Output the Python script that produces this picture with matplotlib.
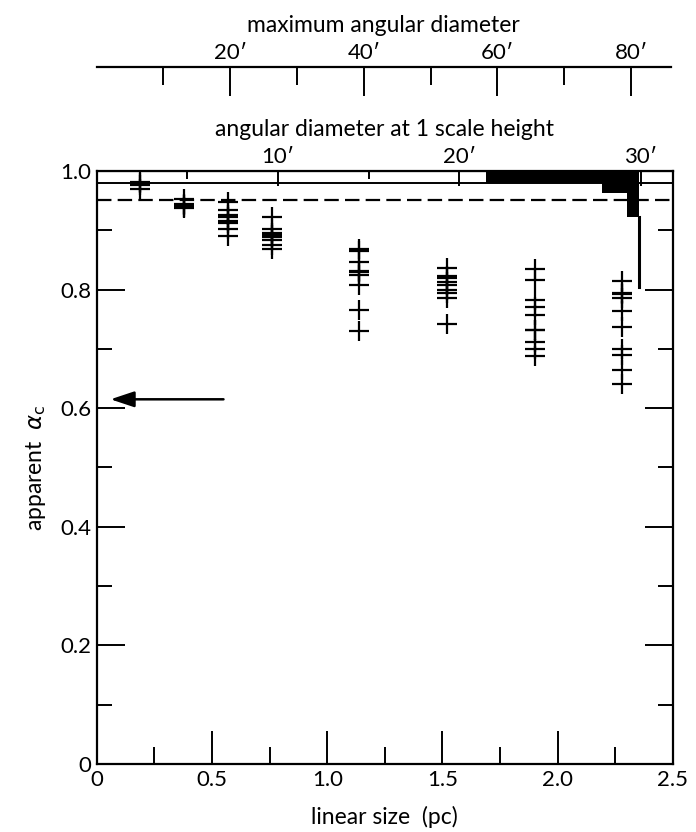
import numpy as np
import matplotlib
matplotlib.use("Agg")
from matplotlib import pyplot as plt

plt.rcParams['font.family'] = ['Lato', 'DejaVu Sans']

# column positions (pc) and apparent alpha_c of each cross
col_x = [0.19, 0.38, 0.57, 0.76, 1.14, 1.52, 1.90, 2.28]
col_y = [
    [0.982, 0.979, 0.976, 0.970],
    [0.952, 0.945, 0.942, 0.940, 0.937],
    [0.948, 0.935, 0.926, 0.923, 0.916, 0.912, 0.902, 0.890],
    [0.923, 0.903, 0.896, 0.892, 0.888, 0.884, 0.875, 0.868],
    [0.868, 0.865, 0.847, 0.832, 0.829, 0.825, 0.807, 0.765, 0.730],
    [0.836, 0.823, 0.819, 0.813, 0.808, 0.800, 0.794, 0.785, 0.742],
    [0.834, 0.816, 0.782, 0.771, 0.757, 0.732, 0.732, 0.712, 0.700, 0.688],
    [0.815, 0.795, 0.793, 0.785, 0.764, 0.737, 0.700, 0.690, 0.665, 0.640],
]

# horizontal reference levels
solid_level = 0.980
dashed_level = 0.951

# black step region hanging from the top
step_edges = [1.689, 2.192, 2.301, 2.353]
step_bottom = [0.980, 0.963, 0.922]
spike_bottom = 0.804

# arrow
arrow_y = 0.615
arrow_from = 0.55
arrow_to = 0.06

# axis conversions
pc_per_arcmin_1h = 0.07866     # angular diameter at 1 scale height
pc_per_arcmin_max = 0.02898    # maximum angular diameter

W, H = 696, 832
fig = plt.figure(figsize=(W / 100, H / 100), dpi=100)
ax = fig.add_axes([96.7 / W, (H - 764) / H, (673 - 96.7) / W, (764 - 171) / H])

for x, ys in zip(col_x, col_y):
    ax.plot([x] * len(ys), ys, ls='none', marker='+', ms=14.5, mew=1.6, color='k')

ax.axhline(solid_level, color='k', lw=1.4)
ax.axhline(dashed_level, color='k', lw=1.6, dashes=(6.5, 2.8))

# step region
sx = []
sy = []
for i, b in enumerate(step_bottom):
    sx += [step_edges[i], step_edges[i + 1]]
    sy += [b, b]
ax.fill_between(sx, sy, 1.0, color='k', lw=0)
ax.plot([step_edges[-1], step_edges[-1]], [step_bottom[-1], spike_bottom], color='k', lw=2.2)

ax.annotate('', xy=(arrow_to, arrow_y), xytext=(arrow_from, arrow_y),
            arrowprops=dict(arrowstyle='-|>,head_length=0.9,head_width=0.3',
                            color='k', lw=1.8, mutation_scale=16, shrinkA=0, shrinkB=0))

ax.set_xlim(0, 2.5)
ax.set_ylim(0, 1.0)
ax.set_xticks([0, 0.5, 1.0, 1.5, 2.0, 2.5])
ax.set_xticklabels(['0', '0.5', '1.0', '1.5', '2.0', '2.5'])
ax.set_xticks(np.arange(0.25, 2.5, 0.5), minor=True)
ax.set_yticks([0, 0.2, 0.4, 0.6, 0.8, 1.0])
ax.set_yticklabels(['0', '0.2', '0.4', '0.6', '0.8', '1.0'])
ax.set_yticks(np.arange(0.1, 1.0, 0.2), minor=True)
ax.tick_params(which='both', direction='in', left=True, right=True, top=False,
               labelsize=16, width=1.4, pad=4)
ax.tick_params(which='major', length=20)
ax.tick_params(which='minor', length=11)
ax.tick_params(axis='x', which='major', length=24)
ax.tick_params(axis='x', which='minor', length=12)
for s in ax.spines.values():
    s.set_linewidth(1.6)

ax.set_xlabel('linear size  (pc)', fontsize=16.5, labelpad=12)
ax.set_ylabel(r'apparent  $\alpha_{\rm c}$', fontsize=16.5, labelpad=9)

# top axis: angular diameter at 1 scale height
top = ax.secondary_xaxis('top', functions=(lambda p: p / pc_per_arcmin_1h,
                                           lambda a: a * pc_per_arcmin_1h))
top.set_xticks([10, 20, 30])
top.set_xticklabels(["10′", "20′", "30′"])
top.set_xticks([5, 15, 25], minor=True)
top.tick_params(which='both', direction='in', labelsize=16, width=1.4, pad=3)
top.tick_params(which='major', length=11)
top.tick_params(which='minor', length=6)
top.set_xlabel('angular diameter at 1 scale height', fontsize=16.5, labelpad=8)

# separate axis: maximum angular diameter
ax2 = fig.add_axes([96.7 / W, (H - 67) / H, (671 - 96.7) / W, 0.0001])
ax2.set_xlim(0, (671 - 96.7) / 230.5 / pc_per_arcmin_max)
ax2.set_ylim(0, 1)
for side in ['top', 'left', 'right']:
    ax2.spines[side].set_visible(False)
ax2.spines['bottom'].set_linewidth(1.6)
ax2.set_yticks([])
ax2.set_xticks([20, 40, 60, 80])
ax2.set_xticklabels(["20′", "40′", "60′", "80′"])
ax2.set_xticks([10, 30, 50, 70], minor=True)
ax2.tick_params(which='both', direction='out', bottom=True, top=False,
                labelbottom=False, labeltop=True, labelsize=16, width=1.4)
ax2.tick_params(which='major', length=21, pad=-18)
ax2.tick_params(which='minor', length=13)
ax2.xaxis.set_label_position('top')
ax2.set_xlabel('maximum angular diameter', fontsize=16.5, labelpad=8)

fig.savefig('out.png', dpi=100)
